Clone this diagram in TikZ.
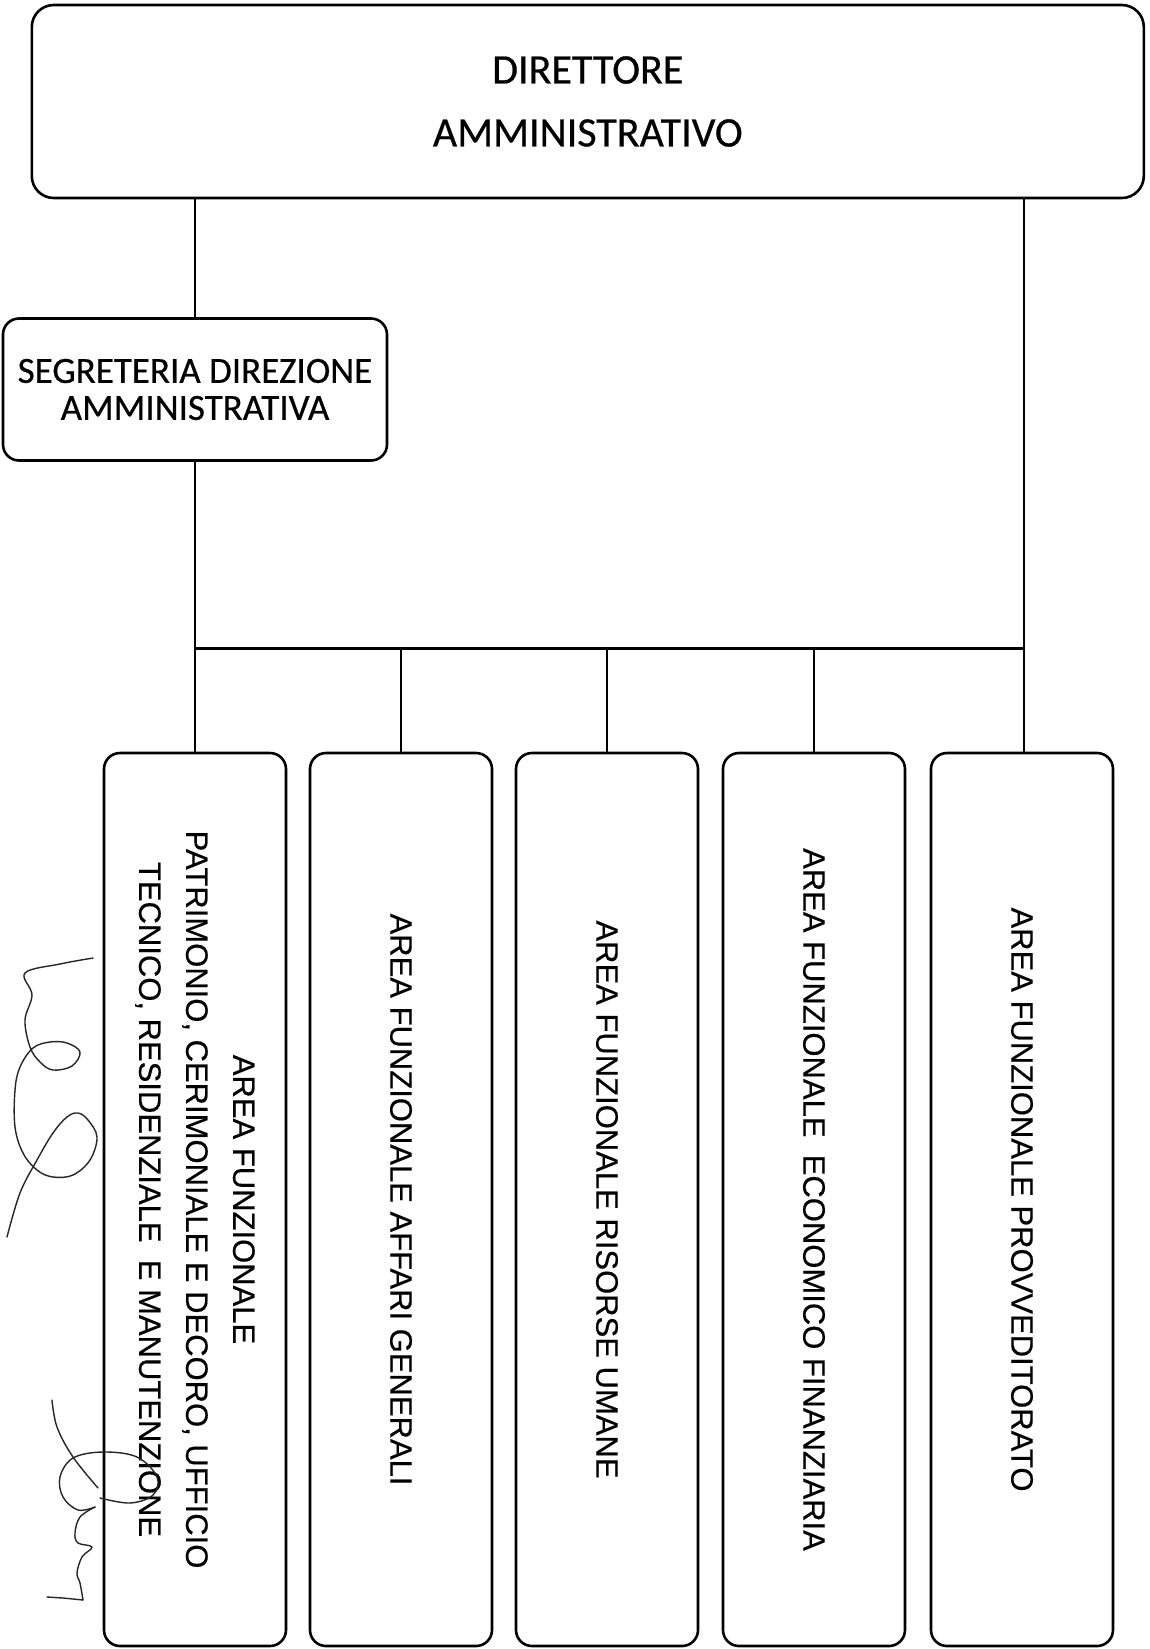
\documentclass[tikz,border=0pt]{standalone}
\usepackage{fontspec}
\setmainfont{Carlito}[FakeBold=0.5]
\newfontfamily\arialf{Liberation Sans}[FakeBold=0.4]
\begin{document}
\begin{tikzpicture}[x=1pt,y=-1pt,
  topbox/.style={draw=black, line width=2.6pt, rounded corners=22pt, inner sep=0pt, align=center},
  secbox/.style={draw=black, line width=2.6pt, rounded corners=16pt, inner sep=0pt, align=center},
  areabox/.style={draw=black, line width=2.6pt, rounded corners=16pt, inner sep=0pt,
                  minimum width=182pt, minimum height=893pt},
  areatext/.style={rotate=-90, align=center, inner sep=0pt,
                   font=\arialf\fontsize{31}{47}\selectfont},
  conn/.style={line width=2pt, black},
  bus/.style={line width=3pt, black},
  sig/.style={line width=1.4pt, black!85, line cap=round, line join=round}]
\useasboundingbox (0,0) rectangle (1150,1649);
\fill[white] (0,0) rectangle (1150,1649);

% top box
\node[topbox, minimum width=1112pt, minimum height=193pt,
      font=\fontsize{42}{63}\selectfont] (dir) at (587.8,101.5) {DIRETTORE\\AMMINISTRATIVO};

% secretary
\node[secbox, minimum width=384pt, minimum height=142pt,
      font=\fontsize{37}{37}\selectfont] (seg) at (195,389.5) {SEGRETERIA DIREZIONE\\AMMINISTRATIVA};

% area boxes
\node[areabox] (a1) at (195,1199.5) {};
\node[areabox] (a2) at (401,1199.5) {};
\node[areabox] (a3) at (607,1199.5) {};
\node[areabox] (a4) at (814,1199.5) {};
\node[areabox] (a5) at (1022,1199.5) {};

\node[areatext] (t1) at (a1.center) {AREA FUNZIONALE\\PATRIMONIO, CERIMONIALE E DECORO, UFFICIO\\TECNICO, RESIDENZIALE\ \ E MANUTENZIONE};
\node[areatext] (t2) at (a2.center) {AREA FUNZIONALE AFFARI GENERALI};
\node[areatext] (t3) at (a3.center) {AREA FUNZIONALE RISORSE UMANE};
\node[areatext] (t4) at (a4.center) {AREA FUNZIONALE\ \ ECONOMICO FINANZIARIA};
\node[areatext] (t5) at (a5.center) {AREA FUNZIONALE PROVVEDITORATO};

% connectors
\coordinate (busL) at (195,648.6);
\coordinate (busR) at (1024,648.6);
\draw[conn] (seg.north |- dir.south) -- (seg.north);
\draw[conn] (seg.south) -- (a1.north);
\draw[conn] (dir.south -| busR) -- (busR |- a5.north);
\draw[bus] (busL) -- (busR);
\draw[conn] (a2.north |- busL) -- (a2.north);
\draw[conn] (a3.north |- busL) -- (a3.north);
\draw[conn] (a4.north |- busL) -- (a4.north);

% handwritten signatures
\draw[sig] plot[smooth, tension=0.6] coordinates {
  (93,958) (60,964) (25,973) (32,995) (25,1020) (30,1047) (40,1062) (53,1070)
  (72,1066) (80,1052) (67,1043) (50,1042) (33,1048) (20,1067) (15,1090) (15,1127)
  (23,1153) (37,1170) (53,1177) (73,1175) (90,1160) (97,1137) (88,1120) (78,1113)
  (67,1117) (53,1133) (37,1160) (20,1193) (7,1237)};
\draw[sig] plot[smooth, tension=0.6] coordinates {
  (52,1400) (57,1427) (73,1457) (98,1488)};
\draw[sig] plot[smooth, tension=0.6] coordinates {
  (100,1498) (130,1503) (153,1495) (157,1477) (137,1457) (103,1452) (73,1458)
  (60,1477) (63,1497) (78,1510) (95,1507)};
\draw[sig] plot[smooth, tension=0.6] coordinates {
  (95,1507) (80,1517) (75,1533) (78,1543) (92,1547) (82,1557) (77,1573) (80,1583)
  (83,1600)};
\draw[sig] (83,1600) -- (63,1598) -- (47,1597);
\end{tikzpicture}
\end{document}
